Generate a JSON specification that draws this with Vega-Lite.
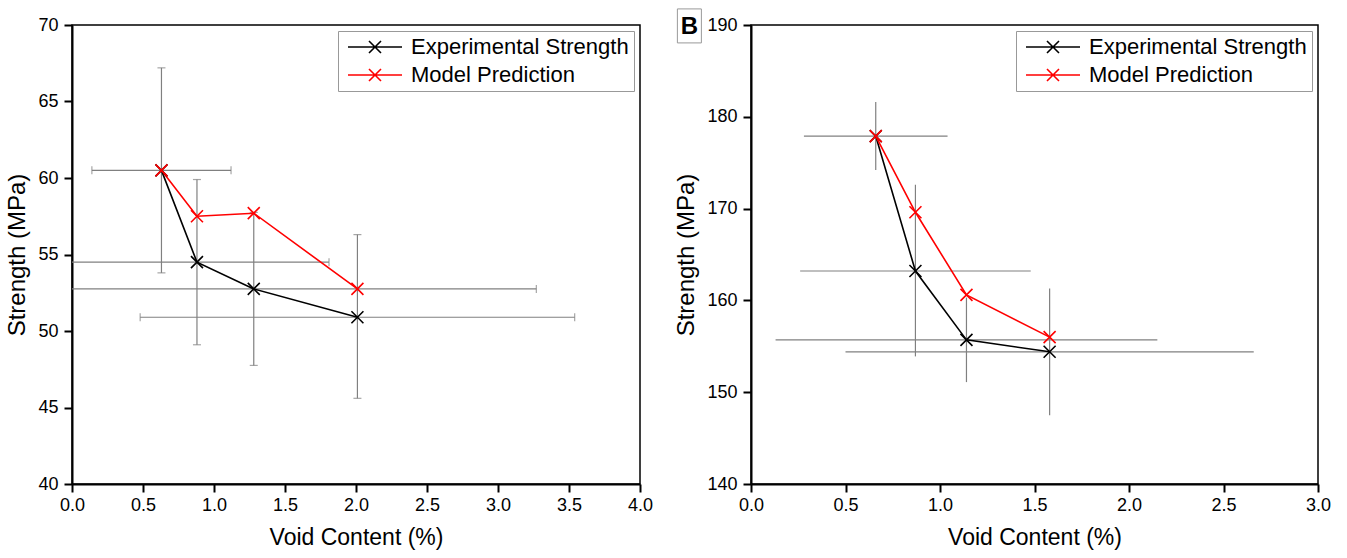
{
  "$schema": "https://vega.github.io/schema/vega-lite/v6.json",
  "background": "white",
  "padding": {"left": 5, "top": 6, "right": 5, "bottom": 0},
  "spacing": 20,
  "datasets": {
    "a": [
      {"series": "Experimental Strength", "void": 0.63, "strength": 60.5, "ylo": 53.8, "yhi": 67.2, "xlo": 0.14, "xhi": 1.12},
      {"series": "Experimental Strength", "void": 0.88, "strength": 54.5, "ylo": 49.1, "yhi": 59.9, "xlo": -0.05, "xhi": 1.81},
      {"series": "Experimental Strength", "void": 1.28, "strength": 52.75, "ylo": 47.75, "yhi": 57.75, "xlo": -0.71, "xhi": 3.27},
      {"series": "Experimental Strength", "void": 2.01, "strength": 50.9, "ylo": 45.6, "yhi": 56.3, "xlo": 0.48, "xhi": 3.54},
      {"series": "Model Prediction", "void": 0.63, "strength": 60.5},
      {"series": "Model Prediction", "void": 0.88, "strength": 57.5},
      {"series": "Model Prediction", "void": 1.28, "strength": 57.7},
      {"series": "Model Prediction", "void": 2.01, "strength": 52.75}
    ],
    "b": [
      {"series": "Experimental Strength", "void": 0.66, "strength": 177.9, "ylo": 174.2, "yhi": 181.6, "xlo": 0.28, "xhi": 1.04},
      {"series": "Experimental Strength", "void": 0.87, "strength": 163.2, "ylo": 153.9, "yhi": 172.6, "xlo": 0.26, "xhi": 1.48},
      {"series": "Experimental Strength", "void": 1.14, "strength": 155.7, "ylo": 151.1, "yhi": 160.3, "xlo": 0.13, "xhi": 2.15},
      {"series": "Experimental Strength", "void": 1.58, "strength": 154.4, "ylo": 147.5, "yhi": 161.3, "xlo": 0.5, "xhi": 2.66},
      {"series": "Model Prediction", "void": 0.66, "strength": 177.9},
      {"series": "Model Prediction", "void": 0.87, "strength": 169.6},
      {"series": "Model Prediction", "void": 1.14, "strength": 160.6},
      {"series": "Model Prediction", "void": 1.58, "strength": 156.0}
    ],
    "labA": [{"label": "A"}],
    "labB": [{"label": "B"}]
  },
  "hconcat": [
    {
      "width": 568,
      "height": 459,
      "layer": [
        {
          "data": {"name": "a"},
          "transform": [{"filter": "datum.series == 'Experimental Strength'"}],
          "mark": {"type": "rule", "color": "#808080", "strokeWidth": 1.2, "clip": true},
          "encoding": {
            "x": {"field": "xlo", "type": "quantitative", "scale": {"domain": [0, 4], "nice": false}, "axis": {"title": "Void Content (%)", "tickCount": 8, "format": ".1f", "ticks": true, "tickColor": "black", "tickWidth": 2, "tickSize": 8}},
            "x2": {"field": "xhi"},
            "y": {"field": "strength", "type": "quantitative", "scale": {"domain": [40, 70], "nice": false}, "axis": {"title": "Strength (MPa)", "tickCount": 6, "format": "d", "ticks": true, "tickColor": "black", "tickWidth": 2, "tickSize": 8}}
          }
        },
        {
          "data": {"name": "a"},
          "transform": [{"filter": "datum.series == 'Experimental Strength'"}],
          "mark": {"type": "rule", "color": "#808080", "strokeWidth": 1.2, "clip": true},
          "encoding": {
            "x": {"field": "void", "type": "quantitative", "title": "Void Content (%)"},
            "y": {"field": "ylo", "type": "quantitative", "title": "Strength (MPa)"},
            "y2": {"field": "yhi"}
          }
        },
        {
          "data": {"name": "a"},
          "transform": [{"filter": "datum.series == 'Experimental Strength'"}],
          "mark": {"type": "tick", "orient": "vertical", "color": "#808080", "size": 8, "thickness": 1.2, "clip": true},
          "encoding": {
            "x": {"field": "xlo", "type": "quantitative", "title": "Void Content (%)"},
            "y": {"field": "strength", "type": "quantitative", "title": "Strength (MPa)"}
          }
        },
        {
          "data": {"name": "a"},
          "transform": [{"filter": "datum.series == 'Experimental Strength'"}],
          "mark": {"type": "tick", "orient": "vertical", "color": "#808080", "size": 8, "thickness": 1.2, "clip": true},
          "encoding": {
            "x": {"field": "xhi", "type": "quantitative", "title": "Void Content (%)"},
            "y": {"field": "strength", "type": "quantitative", "title": "Strength (MPa)"}
          }
        },
        {
          "data": {"name": "a"},
          "transform": [{"filter": "datum.series == 'Experimental Strength'"}],
          "mark": {"type": "tick", "orient": "horizontal", "color": "#808080", "size": 8, "thickness": 1.2, "clip": true},
          "encoding": {
            "x": {"field": "void", "type": "quantitative", "title": "Void Content (%)"},
            "y": {"field": "ylo", "type": "quantitative", "title": "Strength (MPa)"}
          }
        },
        {
          "data": {"name": "a"},
          "transform": [{"filter": "datum.series == 'Experimental Strength'"}],
          "mark": {"type": "tick", "orient": "horizontal", "color": "#808080", "size": 8, "thickness": 1.2, "clip": true},
          "encoding": {
            "x": {"field": "void", "type": "quantitative", "title": "Void Content (%)"},
            "y": {"field": "yhi", "type": "quantitative", "title": "Strength (MPa)"}
          }
        },
        {
          "data": {"name": "a"},
          "mark": {"type": "line", "strokeWidth": 1.6},
          "encoding": {
            "x": {"field": "void", "type": "quantitative", "title": "Void Content (%)"},
            "y": {"field": "strength", "type": "quantitative", "title": "Strength (MPa)"},
            "color": {"field": "series", "type": "nominal", "scale": {"domain": ["Experimental Strength", "Model Prediction"], "range": ["#000000", "#ff0000"]}, "legend": {"orient": "top-right", "offset": 6}},
            "order": {"field": "void", "type": "quantitative"}
          }
        },
        {
          "data": {"name": "a"},
          "mark": {"type": "point", "shape": "M-1,-1L1,1M-1,1L1,-1", "size": 144, "filled": false, "strokeWidth": 1.6, "opacity": 1},
          "encoding": {
            "x": {"field": "void", "type": "quantitative", "title": "Void Content (%)"},
            "y": {"field": "strength", "type": "quantitative", "title": "Strength (MPa)"},
            "color": {"field": "series", "type": "nominal", "scale": {"domain": ["Experimental Strength", "Model Prediction"], "range": ["#000000", "#ff0000"]}, "legend": {"orient": "top-right", "offset": 6}}
          }
        }
      ]
    },
    {
      "width": 567,
      "height": 459,
      "layer": [
        {
          "data": {"name": "b"},
          "transform": [{"filter": "datum.series == 'Experimental Strength'"}],
          "mark": {"type": "rule", "color": "#808080", "strokeWidth": 1.2, "clip": true},
          "encoding": {
            "x": {"field": "xlo", "type": "quantitative", "scale": {"domain": [0, 3], "nice": false}, "axis": {"title": "Void Content (%)", "tickCount": 6, "format": ".1f", "ticks": true, "tickColor": "black", "tickWidth": 2, "tickSize": 8}},
            "x2": {"field": "xhi"},
            "y": {"field": "strength", "type": "quantitative", "scale": {"domain": [140, 190], "nice": false}, "axis": {"title": "Strength (MPa)", "tickCount": 5, "format": "d", "ticks": true, "tickColor": "black", "tickWidth": 2, "tickSize": 8}}
          }
        },
        {
          "data": {"name": "b"},
          "transform": [{"filter": "datum.series == 'Experimental Strength'"}],
          "mark": {"type": "rule", "color": "#808080", "strokeWidth": 1.2, "clip": true},
          "encoding": {
            "x": {"field": "void", "type": "quantitative", "title": "Void Content (%)"},
            "y": {"field": "ylo", "type": "quantitative", "title": "Strength (MPa)"},
            "y2": {"field": "yhi"}
          }
        },
        {
          "data": {"name": "b"},
          "mark": {"type": "line", "strokeWidth": 1.6},
          "encoding": {
            "x": {"field": "void", "type": "quantitative", "title": "Void Content (%)"},
            "y": {"field": "strength", "type": "quantitative", "title": "Strength (MPa)"},
            "color": {"field": "series", "type": "nominal", "scale": {"domain": ["Experimental Strength", "Model Prediction"], "range": ["#000000", "#ff0000"]}, "legend": {"orient": "top-right", "offset": 6}},
            "order": {"field": "void", "type": "quantitative"}
          }
        },
        {
          "data": {"name": "b"},
          "mark": {"type": "point", "shape": "M-1,-1L1,1M-1,1L1,-1", "size": 144, "filled": false, "strokeWidth": 1.6, "opacity": 1},
          "encoding": {
            "x": {"field": "void", "type": "quantitative", "title": "Void Content (%)"},
            "y": {"field": "strength", "type": "quantitative", "title": "Strength (MPa)"},
            "color": {"field": "series", "type": "nominal", "scale": {"domain": ["Experimental Strength", "Model Prediction"], "range": ["#000000", "#ff0000"]}, "legend": {"orient": "top-right", "offset": 6}}
          }
        },
        {
          "data": {"name": "labB"},
          "mark": {"type": "point", "shape": "M-0.706,-1H0.706V1H-0.706Z", "size": 1156, "filled": false, "stroke": "#999999", "strokeWidth": 1, "opacity": 1},
          "encoding": {
            "x": {"datum": -0.326, "type": "quantitative"},
            "y": {"datum": 189.9, "type": "quantitative"}
          }
        },
        {
          "data": {"name": "labB"},
          "mark": {"type": "text", "fontSize": 24, "fontWeight": "bold", "font": "Liberation Sans", "align": "center", "baseline": "middle", "color": "black", "dy": 1},
          "encoding": {
            "x": {"datum": -0.326, "type": "quantitative"},
            "y": {"datum": 189.9, "type": "quantitative"},
            "text": {"field": "label"}
          }
        }
      ]
    }
  ],
  "resolve": {"scale": {"color": "independent"}, "legend": {"color": "independent"}},
  "config": {
    "view": {"stroke": "black", "strokeWidth": 1.5},
    "font": "Liberation Sans",
    "axis": {
      "grid": false,
      "domainColor": "black",
      "domainWidth": 2,
      "labelFont": "Liberation Sans",
      "labelFontSize": 18,
      "labelColor": "black",
      "labelFlush": false,
      "labelOverlap": false,
      "titleFont": "Liberation Sans",
      "titleFontSize": 23,
      "titleFontWeight": "normal",
      "titleColor": "black"
    },
    "axisX": {"labelPadding": 4, "titlePadding": 12},
    "axisY": {"labelPadding": 6, "titlePadding": 8, "titleFontSize": 24},
    "legend": {
      "title": null,
      "padding": 5,
      "strokeColor": "#999999",
      "fillColor": "white",
      "cornerRadius": 0,
      "labelFont": "Liberation Sans",
      "labelFontSize": 22,
      "labelColor": "black",
      "labelLimit": 0,
      "labelOffset": 46,
      "rowPadding": 6,
      "symbolType": "M-1,0H8M2.5,-1L4.5,1M2.5,1L4.5,-1",
      "symbolSize": 144,
      "symbolStrokeWidth": 1.6,
      "symbolFillColor": "transparent"
    }
  }
}
